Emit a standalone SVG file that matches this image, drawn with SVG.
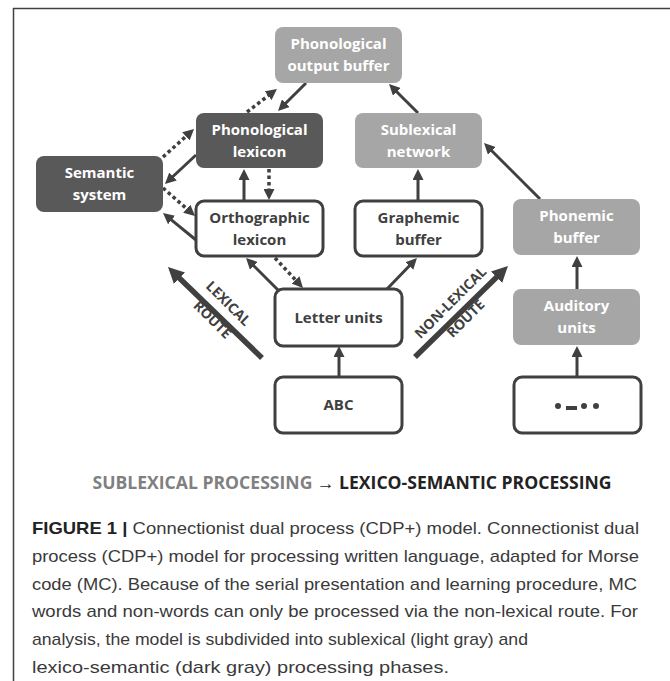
<svg xmlns="http://www.w3.org/2000/svg" width="670" height="681" viewBox="0 0 670 681">
<defs>
<style>
.dark{fill:#595959;stroke:none}
.light{fill:#a6a6a6;stroke:none}
.white{fill:#ffffff;stroke:#404040;stroke-width:3}
.bt{font-family:"Open Sans","Liberation Sans",sans-serif;font-weight:700;font-size:15px;text-anchor:middle}
.wt{fill:#ffffff}
.kt{fill:#404040}
.sol{stroke:#404040;stroke-width:3;fill:none;marker-end:url(#ah)}
.dot{stroke:#404040;stroke-width:3.5;stroke-dasharray:3.5 3;fill:none;marker-end:url(#ah)}
.route{stroke:#404040;stroke-width:5.5;fill:none;marker-end:url(#ahb)}
.rt{font-family:"Open Sans","Liberation Sans",sans-serif;font-weight:700;font-size:14px;fill:#404040;text-anchor:middle}
.cap{font-family:"Liberation Sans",Arial,sans-serif;font-size:17px;fill:#3a3a3a}
</style>
<marker id="ah" markerUnits="userSpaceOnUse" markerWidth="11" markerHeight="11" refX="3" refY="5.5" orient="auto">
<path d="M0,0 L11,5.5 L0,11 z" fill="#404040"/>
</marker>
<marker id="ahb" markerUnits="userSpaceOnUse" markerWidth="16" markerHeight="16" refX="5" refY="8" orient="auto">
<path d="M0,0 L16,8 L0,16 z" fill="#404040"/>
</marker>
</defs>
<rect width="670" height="681" fill="#ffffff"/>
<g id="frame" stroke="#404040" stroke-width="1.5">
<line x1="13" y1="8.5" x2="670" y2="8.5"/>
<line x1="13.5" y1="8" x2="13.5" y2="681"/>
</g>

<g id="connectors">
<line class="sol" x1="306" y1="83" x2="283.7" y2="105.3"/>
<line class="dot" x1="247" y1="112" x2="270.6" y2="93.9"/>
<line class="dot" x1="163" y1="157" x2="188.1" y2="134.4"/>
<line class="sol" x1="196" y1="155" x2="170.8" y2="178.5"/>
<line class="dot" x1="163" y1="188" x2="189" y2="210.7"/>
<line class="sol" x1="196" y1="240" x2="169.2" y2="218.1"/>
<line class="sol" x1="244" y1="200" x2="244" y2="177"/>
<line class="dot" x1="269" y1="169" x2="269" y2="192"/>
<line class="sol" x1="418" y1="113" x2="394.7" y2="89.7"/>
<line class="sol" x1="418" y1="201" x2="418" y2="177"/>
<line class="sol" x1="540" y1="199" x2="489.7" y2="148.7"/>
<line class="sol" x1="278" y1="290" x2="251.7" y2="263.7"/>
<line class="dot" x1="275" y1="258" x2="297.5" y2="282.1"/>
<line class="sol" x1="387" y1="289" x2="411.4" y2="263.8"/>
<line class="sol" x1="339" y1="377" x2="339" y2="354"/>
<line class="sol" x1="577" y1="289" x2="577" y2="264"/>
<line class="sol" x1="577" y1="377" x2="577" y2="354"/>
<line class="route" x1="262" y1="358" x2="175.9" y2="274.7"/>
<line class="route" x1="415" y1="357" x2="500.1" y2="273.7"/>
</g>

<g id="route-labels">
<text class="rt" transform="translate(225,307) rotate(45)">LEXICAL</text>
<text class="rt" transform="translate(209,323) rotate(45)">ROUTE</text>
<text class="rt" transform="translate(454,306) rotate(-45)">NON-LEXICAL</text>
<text class="rt" transform="translate(469,322) rotate(-45)">ROUTE</text>
</g>

<g id="phonological-output-buffer">
<rect class="light" x="275" y="27" width="127" height="56" rx="8"/>
<text class="bt wt" x="338.5" y="49">Phonological</text>
<text class="bt wt" x="338.5" y="71">output buffer</text>
</g>
<g id="phonological-lexicon">
<rect class="dark" x="196" y="113" width="127" height="55" rx="8"/>
<text class="bt wt" x="259.5" y="135">Phonological</text>
<text class="bt wt" x="259.5" y="157">lexicon</text>
</g>
<g id="semantic-system">
<rect class="dark" x="36" y="156" width="127" height="56" rx="8"/>
<text class="bt wt" x="99.5" y="178">Semantic</text>
<text class="bt wt" x="99.5" y="200">system</text>
</g>
<g id="orthographic-lexicon">
<rect class="white" x="196" y="201" width="127" height="55" rx="8"/>
<text class="bt kt" x="259.5" y="223">Orthographic</text>
<text class="bt kt" x="259.5" y="245">lexicon</text>
</g>
<g id="sublexical-network">
<rect class="light" x="355" y="113" width="127" height="55" rx="8"/>
<text class="bt wt" x="418.5" y="135">Sublexical</text>
<text class="bt wt" x="418.5" y="157">network</text>
</g>
<g id="graphemic-buffer">
<rect class="white" x="355" y="201" width="127" height="55" rx="8"/>
<text class="bt kt" x="418.5" y="223">Graphemic</text>
<text class="bt kt" x="418.5" y="245">buffer</text>
</g>
<g id="phonemic-buffer">
<rect class="light" x="513" y="199" width="127" height="56" rx="8"/>
<text class="bt wt" x="576.5" y="221">Phonemic</text>
<text class="bt wt" x="576.5" y="243">buffer</text>
</g>
<g id="letter-units">
<rect class="white" x="275" y="289" width="127" height="57" rx="8"/>
<text class="bt kt" x="338.5" y="323">Letter units</text>
</g>
<g id="abc">
<rect class="white" x="275" y="377" width="127" height="56" rx="8"/>
<text class="bt kt" x="338.5" y="410">ABC</text>
</g>
<g id="auditory-units">
<rect class="light" x="513" y="289" width="127" height="56" rx="8"/>
<text class="bt wt" x="576.5" y="311">Auditory</text>
<text class="bt wt" x="576.5" y="333">units</text>
</g>
<g id="morse-input">
<rect class="white" x="514" y="377" width="127" height="56" rx="8"/>
<g fill="#404040">
<circle cx="558" cy="406" r="3"/>
<rect x="566" y="406" width="11" height="4"/>
<circle cx="584" cy="406" r="3"/>
<circle cx="596" cy="406" r="3"/>
</g>
</g>

<g id="heading">
<text x="352" y="489" font-family="'Open Sans','Liberation Sans',sans-serif" font-size="17" font-weight="700" text-anchor="middle" textLength="519" lengthAdjust="spacingAndGlyphs"><tspan fill="#808080">SUBLEXICAL PROCESSING</tspan><tspan fill="#222222"> → LEXICO-SEMANTIC PROCESSING</tspan></text>
</g>

<g id="caption">
<text class="cap" x="32" y="534" textLength="607" lengthAdjust="spacingAndGlyphs"><tspan font-weight="700" fill="#222222">FIGURE 1 |</tspan> Connectionist dual process (CDP+) model. Connectionist dual</text>
<text class="cap" x="32" y="562" textLength="607" lengthAdjust="spacingAndGlyphs">process (CDP+) model for processing written language, adapted for Morse</text>
<text class="cap" x="32" y="590" textLength="605" lengthAdjust="spacingAndGlyphs">code (MC). Because of the serial presentation and learning procedure, MC</text>
<text class="cap" x="32" y="617" textLength="606" lengthAdjust="spacingAndGlyphs">words and non-words can only be processed via the non-lexical route. For</text>
<text class="cap" x="32" y="645" textLength="496" lengthAdjust="spacingAndGlyphs">analysis, the model is subdivided into sublexical (light gray) and</text>
<text class="cap" x="32" y="673" textLength="417" lengthAdjust="spacingAndGlyphs">lexico-semantic (dark gray) processing phases.</text>
</g>
</svg>
